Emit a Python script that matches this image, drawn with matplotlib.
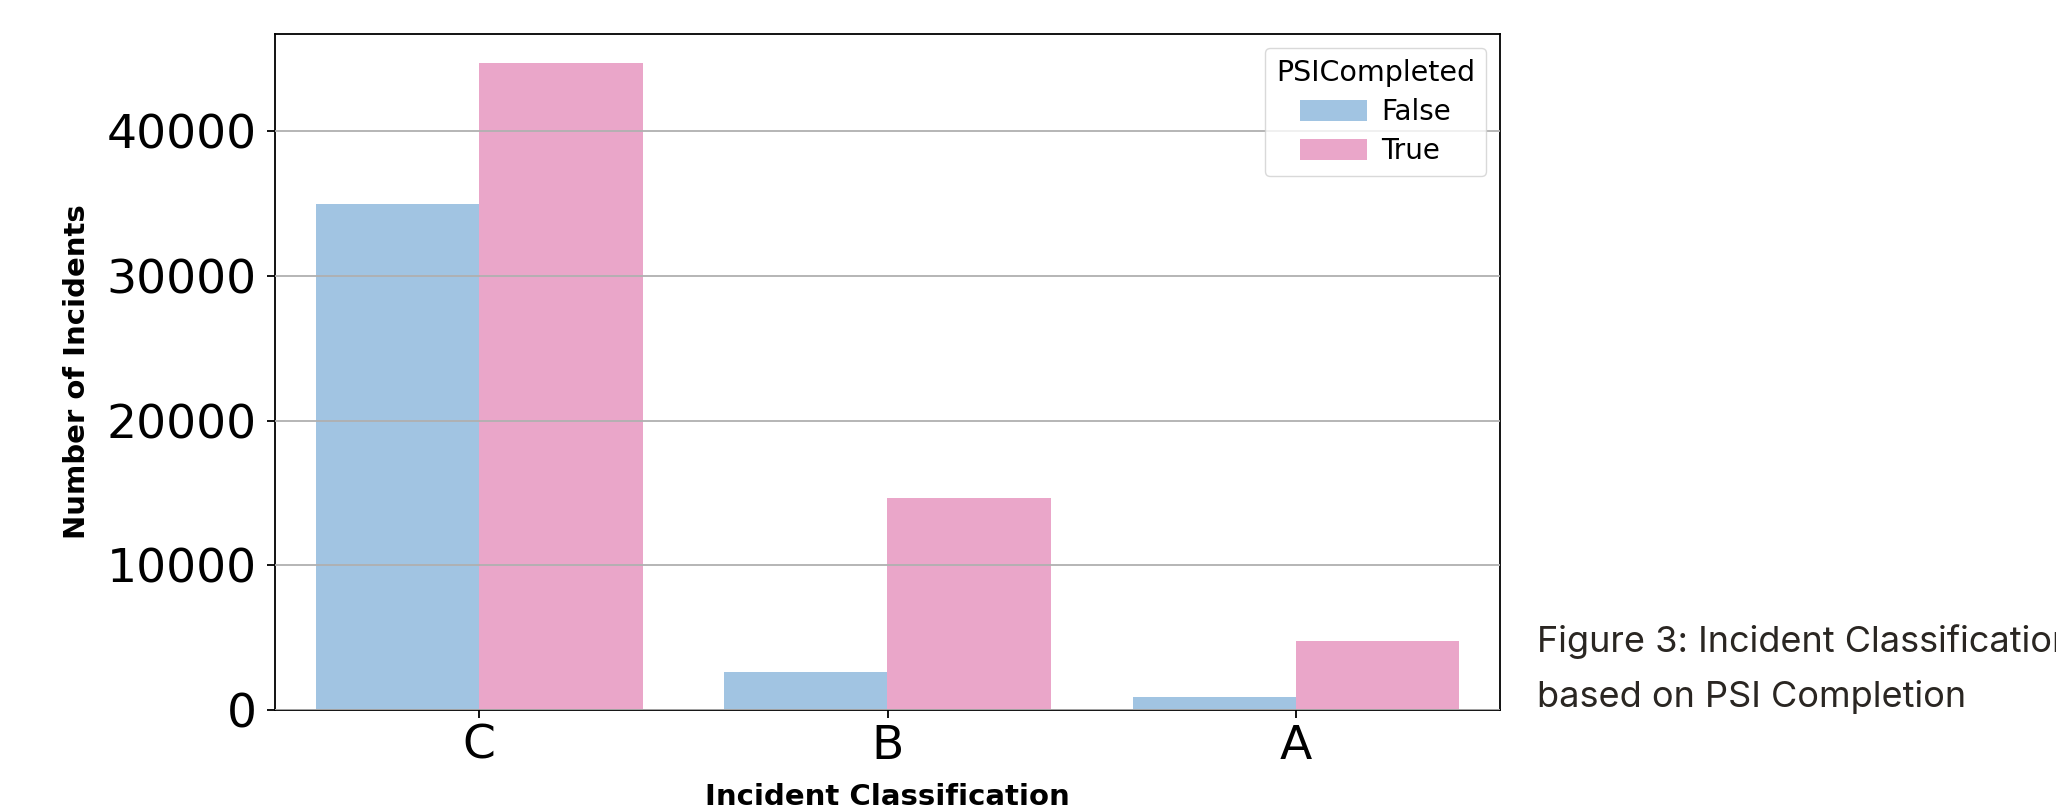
import matplotlib
matplotlib.use("Agg")
import matplotlib.pyplot as plt
import numpy as np

categories = ["C", "B", "A"]
hue_labels = ["False", "True"]
false_counts = [34950, 2600, 870]
true_counts = [44700, 14650, 4780]
yticks = [0, 10000, 20000, 30000, 40000]

colors = {"False": "#a1c4e2", "True": "#eaa6c9"}

W, H = 2056, 809
fig = plt.figure(figsize=(W / 100, H / 100), dpi=100)
ax = fig.add_axes([275 / W, 1 - 710 / H, (1500 - 275) / W, (710 - 34) / H])

x = np.arange(len(categories))
bw = 0.4
ax.bar(x - bw / 2, false_counts, width=bw, color=colors["False"], label=hue_labels[0], linewidth=0)
ax.bar(x + bw / 2, true_counts, width=bw, color=colors["True"], label=hue_labels[1], linewidth=0)

ax.set_xlim(-0.5, 2.5)
ax.set_ylim(0, max(true_counts) * 1.045)
ax.set_xticks(x)
ax.set_xticklabels(categories)
ax.set_yticks(yticks)

ax.set_axisbelow(False)
ax.grid(axis="y", color="#b0b0b0", linewidth=1.3)
ax.grid(axis="x", visible=False)

for s in ax.spines.values():
    s.set_linewidth(1.3)
    s.set_color("black")

ax.tick_params(axis="both", labelsize=34, length=6, width=1.3, color="black")
ax.tick_params(axis="y", pad=7)
ax.tick_params(axis="x", pad=4)

ax.set_xlabel("Incident Classification", fontsize=21, fontweight="bold", va="center")
ax.set_ylabel("Number of Incidents", fontsize=21, fontweight="bold", va="center")
ax.xaxis.set_label_coords(0.5, (710 - 797) / 676)
ax.yaxis.set_label_coords((77 - 275) / 1225, 0.5)

leg = ax.legend(title="PSICompleted", loc="upper right", fontsize=20,
                title_fontsize=20.5, handlelength=2.4, handleheight=0.8,
                handletextpad=0.5, labelspacing=0.4, frameon=True)
leg.get_frame().set_edgecolor("#d0d0d0")

cap_kw = dict(fontsize=26, family=["Inter", "DejaVu Sans"], color="#2a2622", va="baseline", ha="left")
fig.text(1537 / W, 1 - 652 / H, "Figure 3: Incident Classification", **cap_kw)
fig.text(1537 / W, 1 - 707 / H, "based on PSI Completion", **cap_kw)

fig.savefig("out.png", dpi=100)
